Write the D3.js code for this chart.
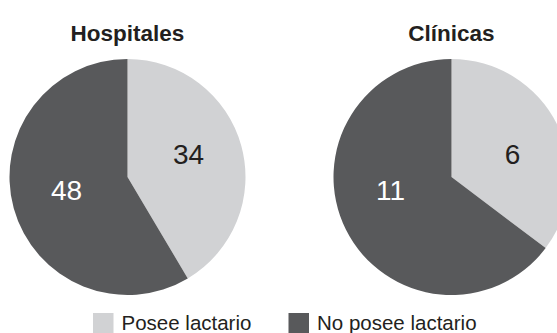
<!DOCTYPE html>
<html>
<head>
<meta charset="utf-8">
<script src="https://cdn.jsdelivr.net/npm/d3@7"></script>
<style>
  html, body { margin: 0; padding: 0; background: #fff; }
  svg { display: block; font-family: "Liberation Sans", Arial, sans-serif; }
</style>
</head>
<body>
<svg id="chart" width="557" height="333"></svg>
<script>
// Datos
const groups = ["Hospitales", "Clínicas"];
const categories = ["Posee lactario", "No posee lactario"];
const hospitalesValues = [34, 48];
const clinicasValues = [6, 11];
const colors = ["#d1d2d4", "#58595b"];
const labelColors = ["#231f20", "#ffffff"];

const svg = d3.select("#chart");

const radius = 118;
const centerY = 177;
const centerX = d3.scalePoint().domain(groups).range([127.5, 451.5]);

const pie = d3.pie().sort(null).value(d => d);
const arc = d3.arc().innerRadius(0).outerRadius(radius);
const labelArc = d3.arc().innerRadius(0).outerRadius(128);

const series = [hospitalesValues, clinicasValues];

groups.forEach((g, gi) => {
  const cx = centerX(g);
  const gEl = svg.append("g").attr("transform", `translate(${cx},${centerY})`);

  gEl.selectAll("path.slice")
    .data(pie(series[gi]))
    .join("path")
    .attr("class", "slice")
    .attr("d", arc)
    .attr("fill", (d, i) => colors[i]);

  // value labels: side taken from the slice centroid, set on two fixed rows
  gEl.selectAll("text.val")
    .data(pie(series[gi]))
    .join("text")
    .attr("class", "val")
    .attr("transform", d => {
      const [x, y] = labelArc.centroid(d);
      const lx = Math.sign(x) * 61;
      const ly = y < 0 ? -13 : 23;
      return `translate(${lx},${ly})`;
    })
    .attr("text-anchor", "middle")
    .attr("font-size", 28)
    .attr("fill", (d, i) => labelColors[i])
    .text(d => d.data);

  svg.append("text")
    .attr("x", cx)
    .attr("y", 41)
    .attr("text-anchor", "middle")
    .attr("font-size", 22.5)
    .attr("font-weight", "bold")
    .attr("fill", "#231f20")
    .text(g);
});

// Leyenda
const legendX = [93, 288.5];
const legend = svg.selectAll("g.legend")
  .data(categories)
  .join("g")
  .attr("class", "legend")
  .attr("transform", (d, i) => `translate(${legendX[i]},313)`);

legend.append("rect")
  .attr("width", 20.5)
  .attr("height", 20.5)
  .attr("fill", (d, i) => colors[i]);

legend.append("text")
  .attr("x", 28.5)
  .attr("y", 17)
  .attr("font-size", 20.5)
  .attr("fill", "#231f20")
  .text(d => d);
</script>
</body>
</html>
